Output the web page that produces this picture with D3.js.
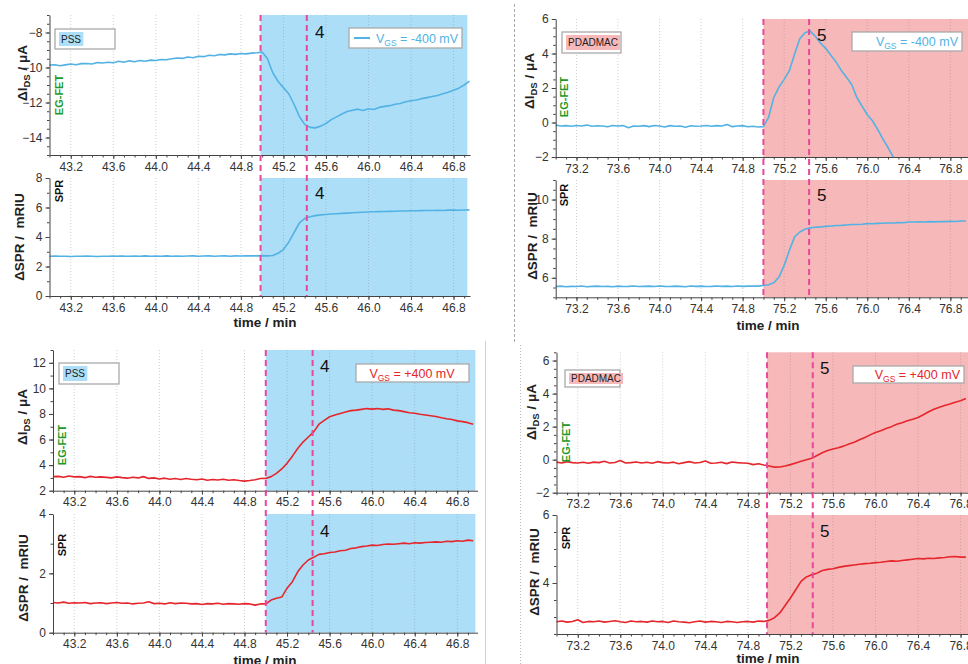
<!doctype html>
<html>
<head>
<meta charset="utf-8">
<title>EG-FET and SPR responses</title>
<script src="https://d3js.org/d3.v7.min.js"></script>
<style>
  body { margin:0; background:#fff; }
  svg { display:block; font-family:"Liberation Sans", Arial, sans-serif; }
</style>
</head>
<body>
<svg id="chart" width="968" height="664"></svg>
<script>
const xTicksPSS = [43.2, 43.6, 44.0, 44.4, 44.8, 45.2, 45.6, 46.0, 46.4, 46.8];
const xTicksPDA = [73.2, 73.6, 74.0, 74.4, 74.8, 75.2, 75.6, 76.0, 76.4, 76.8];

// PSS, VGS = -400 mV
const pssNegFet = [
  -9.86,-9.84,-9.9,-9.85,-9.8,-9.84,-9.78,-9.77,-9.8,-9.72,-9.74,-9.7,-9.73,-9.64,-9.7,-9.62,-9.67,-9.6,-9.64,-9.58,
  -9.6,-9.54,-9.56,-9.5,-9.46,-9.48,-9.4,-9.44,-9.36,-9.38,-9.3,-9.33,-9.26,-9.28,-9.22,-9.25,-9.2,-9.22,-9.18,-9.16,
  -9.12,-9.5,-10.3,-10.8,-11.15,-11.5,-12.1,-12.8,-13.25,-13.42,-13.45,-13.35,-13.2,-12.98,-12.82,-12.66,-12.52,-12.44,-12.38,-12.46,
  -12.36,-12.4,-12.28,-12.22,-12.18,-12.1,-12.06,-11.96,-11.9,-11.86,-11.78,-11.72,-11.66,-11.6,-11.5,-11.42,-11.3,-11.18,-11.0,-10.78
];
const pssNegSpr = [
  2.7,2.71,2.69,2.7,2.68,2.7,2.69,2.71,2.7,2.68,2.7,2.69,2.71,2.7,2.7,2.69,2.71,2.7,2.72,2.7,
  2.71,2.7,2.72,2.7,2.71,2.7,2.71,2.72,2.7,2.71,2.72,2.7,2.71,2.72,2.7,2.72,2.71,2.72,2.73,2.72,
  2.74,2.72,2.75,2.9,3.15,3.65,4.3,4.95,5.25,5.37,5.45,5.5,5.53,5.56,5.58,5.6,5.62,5.64,5.66,5.68,
  5.7,5.71,5.72,5.73,5.74,5.75,5.76,5.76,5.78,5.78,5.79,5.8,5.8,5.81,5.8,5.82,5.82,5.81,5.83,5.84
];
// PDADMAC, VGS = -400 mV
const pdaNegFet = [
  -0.15,-0.2,-0.18,-0.22,-0.17,-0.2,-0.15,-0.22,-0.19,-0.2,-0.25,-0.17,-0.2,-0.18,-0.3,-0.2,-0.22,-0.18,-0.24,-0.17,
  -0.2,-0.26,-0.18,-0.22,-0.2,-0.27,-0.19,-0.22,-0.2,-0.17,-0.22,-0.18,-0.2,-0.12,-0.24,-0.2,-0.18,-0.25,-0.22,-0.26,
  -0.24,0.3,1.45,2.05,2.5,3.0,3.95,4.85,5.2,5.3,5.0,4.6,4.3,3.9,3.5,3.02,2.62,2.2,1.45,0.95,
  0.45,0.1,-0.4,-0.95,-1.45,-2.0
];
const pdaNegSpr = [
  5.55,5.57,5.54,5.56,5.55,5.58,5.54,5.56,5.57,5.55,5.56,5.54,5.57,5.55,5.56,5.58,5.55,5.56,5.57,5.55,
  5.58,5.56,5.55,5.57,5.56,5.54,5.58,5.56,5.57,5.55,5.56,5.58,5.56,5.57,5.55,5.58,5.56,5.57,5.58,5.57,
  5.6,5.64,5.74,6.03,6.63,7.4,8.09,8.34,8.48,8.55,8.58,8.6,8.63,8.65,8.67,8.68,8.7,8.72,8.72,8.74,
  8.77,8.76,8.78,8.79,8.8,8.8,8.82,8.81,8.85,8.85,8.86,8.85,8.87,8.86,8.88,8.87,8.89,8.88,8.9,8.9
];
// PSS, VGS = +400 mV
const pssPosFet = [
  3.1,3.12,3.05,3.15,3.08,3.1,3.02,3.12,3.05,3.08,3.04,3.0,3.08,3.02,2.98,3.05,3.0,3.1,2.96,3.0,
  2.92,2.98,2.9,2.95,2.88,2.96,2.9,2.85,2.92,2.82,2.88,2.84,2.9,2.82,2.86,2.8,2.75,2.8,2.86,2.95,
  2.96,3.1,3.35,3.7,4.14,4.7,5.3,5.8,6.2,6.6,7.2,7.5,7.78,7.92,8.04,8.15,8.26,8.3,8.36,8.42,
  8.38,8.42,8.36,8.4,8.3,8.26,8.18,8.1,8.06,7.98,7.92,7.86,7.8,7.7,7.62,7.56,7.46,7.4,7.32,7.2
];
const pssPosSpr = [
  1.02,1.0,1.03,0.99,1.01,1.0,1.02,0.98,1.0,1.01,0.98,1.0,1.02,0.99,1.0,0.97,0.99,1.0,1.04,0.98,
  0.99,0.97,1.01,0.98,1.0,0.99,0.97,0.98,0.95,0.98,0.97,0.99,0.96,0.98,0.97,0.96,0.98,0.97,0.93,0.97,
  0.97,1.1,1.16,1.2,1.5,1.72,2.05,2.28,2.45,2.54,2.64,2.66,2.7,2.72,2.76,2.78,2.84,2.86,2.9,2.92,
  2.95,2.94,2.97,2.99,2.98,3.0,3.02,3.0,3.03,3.02,3.04,3.05,3.06,3.05,3.08,3.07,3.1,3.08,3.12,3.1
];
// PDADMAC, VGS = +400 mV
const pdaPosFet = [
  -0.15,-0.2,-0.12,-0.18,-0.2,-0.16,-0.22,-0.15,-0.18,-0.1,-0.2,-0.17,-0.05,-0.2,-0.18,-0.14,-0.2,-0.16,-0.22,-0.12,
  -0.18,-0.2,-0.15,-0.25,-0.18,-0.12,-0.2,-0.17,-0.08,-0.22,-0.2,-0.16,-0.24,-0.14,-0.18,-0.2,-0.22,-0.3,-0.25,-0.32,
  -0.38,-0.45,-0.44,-0.38,-0.3,-0.2,-0.1,0.0,0.08,0.25,0.42,0.55,0.64,0.72,0.82,0.95,1.05,1.2,1.34,1.5,
  1.65,1.75,1.88,2.0,2.14,2.24,2.36,2.45,2.55,2.72,2.9,3.05,3.18,3.28,3.37,3.48,3.57,3.7
];
const pdaPosSpr = [
  2.86,2.88,2.85,2.87,2.92,2.84,2.87,2.86,2.88,2.85,2.87,2.89,2.86,2.84,2.88,2.86,2.87,2.85,2.88,2.86,
  2.87,2.84,2.88,2.86,2.85,2.83,2.86,2.88,2.85,2.87,2.86,2.84,2.87,2.86,2.84,2.86,2.87,2.85,2.88,2.87,
  2.9,2.98,3.12,3.34,3.56,3.8,4.05,4.18,4.24,4.29,4.37,4.4,4.42,4.46,4.49,4.51,4.53,4.55,4.57,4.58,
  4.6,4.61,4.63,4.65,4.64,4.66,4.68,4.7,4.72,4.71,4.73,4.72,4.74,4.75,4.77,4.78,4.76,4.76
];

const BLUE = "#52b2e4", RED = "#e5262c";
const SHADE_PSS = "#acdff7", SHADE_PDA = "#f7b8b9";
const DASH = "#e8479b";

const svg = d3.select("#chart");

// separators between the four figures
svg.append("line").attr("x1",514.5).attr("x2",514.5).attr("y1",4).attr("y2",343)
   .attr("stroke","#aaa").attr("stroke-dasharray","3,2");
svg.append("line").attr("x1",485.5).attr("x2",485.5).attr("y1",341).attr("y2",664)
   .attr("stroke","#d0d0d0");
svg.append("line").attr("x1",520.5).attr("x2",520.5).attr("y1",345).attr("y2",664)
   .attr("stroke","#bbb").attr("stroke-dasharray","1,2");

const quads = [
  { left:49.5, right:470, xDomain:[43,46.955], t0:43, xTicks:xTicksPSS, shade:SHADE_PSS, shadeTo:46.93,
    dashes:[44.985,45.42], color:BLUE, num:"4", numX:315, polymer:"PSS",
    polyBox:[55,29,60,20], vgsBox:[349,28,113,20], vgsText:"-400 mV", vgsSample:true, vgsX:376, vgsAnchor:"start",
    time:[265,327],
    panels:[
      { top:15, bottom:155, domain:[-15,-7], ticks:[-14,-12,-10,-8], minor:0.5, values:pssNegFet,
        numY:38, tag:"EG-FET", tagPos:[63,95], title:"fet", titlePos:[27,73] },
      { top:178, bottom:296, domain:[0,8], ticks:[0,2,4,6,8], minor:1, values:pssNegSpr,
        numY:199, tag:"SPR", tagPos:[63,191], title:"spr", titlePos:[24,237] } ] },
  { left:555.7, right:968, xDomain:[73,76.97], t0:73, xTicks:xTicksPDA, shade:SHADE_PDA, shadeTo:77,
    dashes:[75.0,75.44], color:BLUE, num:"5", numX:817, polymer:"PDADMAC",
    polyBox:[562,32,59,21], vgsBox:[852,32,110,19], vgsText:"-400 mV", vgsSample:false, vgsX:958, vgsAnchor:"end",
    time:[768,330],
    panels:[
      { top:19, bottom:157, domain:[-2,6], ticks:[-2,0,2,4,6], minor:0.5, values:pdaNegFet,
        numY:41, tag:"EG-FET", tagPos:[568,97], title:"fet", titlePos:[534,81] },
      { top:180, bottom:297.3, domain:[5,11], ticks:[6,8,10], minor:0.5, values:pdaNegSpr,
        numY:201, tag:"SPR", tagPos:[568,195], title:"spr", titlePos:[537,236] } ] },
  { left:53, right:477.5, xDomain:[43,46.99], t0:43, xTicks:xTicksPSS, shade:SHADE_PSS, shadeTo:46.97,
    dashes:[45.0,45.44], color:RED, num:"4", numX:320, polymer:"PSS",
    polyBox:[59,363,60,21], vgsBox:[356,364,113,18], vgsText:"+400 mV", vgsSample:false, vgsX:412, vgsAnchor:"middle",
    time:[265,665],
    panels:[
      { top:350, bottom:490.7, domain:[2,13], ticks:[2,4,6,8,10,12], minor:1, values:pssPosFet,
        numY:372, tag:"EG-FET", tagPos:[66,445], title:"fet", titlePos:[27,417] },
      { top:514, bottom:632.7, domain:[0,4], ticks:[0,2,4], minor:1, values:pssPosSpr,
        numY:537, tag:"SPR", tagPos:[66,545], title:"spr", titlePos:[28,578] } ] },
  { left:556.5, right:968, xDomain:[73,76.87], t0:73, xTicks:xTicksPDA, shade:SHADE_PDA, shadeTo:77,
    dashes:[74.98,75.41], color:RED, num:"5", numX:820, polymer:"PDADMAC",
    polyBox:[565,370,55,17], vgsBox:[853,366,111,17], vgsText:"+400 mV", vgsSample:false, vgsX:960, vgsAnchor:"end",
    time:[768,663],
    panels:[
      { top:352.3, bottom:492.7, domain:[-2,6.5], ticks:[-2,0,2,4,6], minor:0.5, values:pdaPosFet,
        numY:374, tag:"EG-FET", tagPos:[570,442], title:"fet", titlePos:[536,412] },
      { top:515, bottom:634, domain:[2.5,6], ticks:[4,6], minor:0.5, values:pdaPosSpr,
        numY:537, tag:"SPR", tagPos:[570,538], title:"spr", titlePos:[539,572] } ] }
];

function yTitle(g, kind, pos) {
  const t = g.append("text").attr("transform", `translate(${pos[0]},${pos[1]}) rotate(-90)`)
    .attr("text-anchor","middle").attr("font-size",13.5).attr("font-weight","bold").attr("fill","#222");
  if (kind === "fet") {
    t.append("tspan").text("\u0394I");
    t.append("tspan").attr("font-size",9.5).attr("dy",3).text("DS");
    t.append("tspan").attr("dy",-3).text(" / \u03bcA");
  } else {
    t.text("\u0394SPR /\u00a0 mRIU");
  }
}

quads.forEach(q => {
  const g = svg.append("g");
  const x = d3.scaleLinear().domain(q.xDomain).range([q.left, q.right]);
  const xMinor = d3.range(Math.ceil(q.xDomain[0]*10), Math.floor(q.xDomain[1]*10)+1).map(d => d/10);

  q.panels.forEach(p => {
    const y = d3.scaleLinear().domain(p.domain).range([p.bottom, p.top]);
    const pg = g.append("g");

    // shaded injection region
    pg.append("rect").attr("x", x(q.dashes[0])).attr("y", p.top)
      .attr("width", Math.min(x(q.shadeTo), q.right) - x(q.dashes[0])).attr("height", p.bottom - p.top)
      .attr("fill", q.shade);

    // dotted vertical grid
    pg.selectAll("line.grid").data(q.xTicks).join("line").attr("class","grid")
      .attr("x1", d => x(d)).attr("x2", d => x(d)).attr("y1", p.top).attr("y2", p.bottom)
      .attr("stroke", "#777").attr("stroke-opacity", 0.35).attr("stroke-dasharray", "1,2");

    // signal
    const pts = p.values.map((v, i) => [q.t0 + i * 0.05, v]);
    pg.append("path").datum(pts)
      .attr("d", d3.line().x(d => x(d[0])).y(d => y(d[1])))
      .attr("fill","none").attr("stroke", q.color).attr("stroke-width", 1.6).attr("stroke-linejoin","round");

    // x axis (major + minor)
    const xa = pg.append("g").attr("transform", `translate(0,${p.bottom})`)
      .call(d3.axisBottom(x).tickValues(q.xTicks).tickFormat(d3.format(".1f")).tickSize(4).tickSizeOuter(0));
    pg.append("g").attr("transform", `translate(0,${p.bottom})`)
      .call(d3.axisBottom(x).tickValues(xMinor).tickFormat("").tickSize(2.5).tickSizeOuter(0))
      .select(".domain").remove();
    xa.selectAll("text").attr("font-size", 12).attr("fill","#333").attr("font-family","Liberation Sans, Arial, sans-serif");

    // y axis (major + minor)
    const yMinor = d3.range(p.domain[0], p.domain[1] + 1e-9, p.minor);
    const ya = pg.append("g").attr("transform", `translate(${q.left},0)`)
      .call(d3.axisLeft(y).tickValues(p.ticks).tickFormat(d3.format("d")).tickSize(4).tickSizeOuter(0));
    pg.append("g").attr("transform", `translate(${q.left},0)`)
      .call(d3.axisLeft(y).tickValues(yMinor).tickFormat("").tickSize(2.5).tickSizeOuter(0))
      .select(".domain").remove();
    ya.selectAll("text").attr("font-size", 12).attr("fill","#333").attr("font-family","Liberation Sans, Arial, sans-serif");
    pg.selectAll(".domain, .tick line").attr("stroke","#444");

    // step number
    pg.append("text").attr("x", q.numX).attr("y", p.numY).attr("font-size", 17).attr("fill","#111").text(q.num);

    // rotated tags
    pg.append("text").attr("transform", `translate(${p.tagPos[0]},${p.tagPos[1]}) rotate(-90)`)
      .attr("text-anchor","middle").attr("font-size", 11).attr("font-weight","bold")
      .attr("fill", p.tag === "EG-FET" ? "#1f9a2a" : "#111").text(p.tag);

    yTitle(pg, p.title, p.titlePos);
  });

  // dashed markers across both panels
  const top = q.panels[0].top, bot = q.panels[1].bottom;
  g.selectAll("line.mark").data(q.dashes).join("line").attr("class","mark")
    .attr("x1", d => x(d)).attr("x2", d => x(d)).attr("y1", top).attr("y2", bot)
    .attr("stroke", DASH).attr("stroke-width", 2).attr("stroke-dasharray", "6,4");

  // polymer label box
  const pb = q.polyBox;
  g.append("rect").attr("x", pb[0]).attr("y", pb[1]).attr("width", pb[2]).attr("height", pb[3])
    .attr("fill","#fff").attr("stroke","#aaa").attr("stroke-width",1.3);
  const pt = g.append("text").attr("x", pb[0] + 6).attr("y", pb[1] + pb[3]/2 + 3.5)
    .attr("font-size", 10).attr("fill","#222").text(q.polymer);
  const bb = pt.node().getBBox();
  g.insert("rect", () => pt.node()).attr("x", bb.x - 2).attr("y", pb[1] + 3).attr("width", bb.width + 4)
    .attr("height", pb[3] - 6).attr("fill", q.shade);

  // VGS legend box
  const vb = q.vgsBox;
  g.append("rect").attr("x", vb[0]).attr("y", vb[1]).attr("width", vb[2]).attr("height", vb[3])
    .attr("fill","#fff").attr("stroke","#aaa").attr("stroke-width",1.3);
  if (q.vgsSample) {
    g.append("line").attr("x1", vb[0] + 5).attr("x2", vb[0] + 21)
      .attr("y1", vb[1] + vb[3]/2).attr("y2", vb[1] + vb[3]/2)
      .attr("stroke", q.color).attr("stroke-width", 2);
  }
  const vt = g.append("text").attr("x", q.vgsX).attr("y", vb[1] + vb[3]/2 + 4.5)
    .attr("text-anchor", q.vgsAnchor).attr("font-size", 12.5).attr("fill", q.color);
  vt.append("tspan").text("V");
  vt.append("tspan").attr("font-size", 8.5).attr("dy", 3).text("GS");
  vt.append("tspan").attr("dy", -3).text(" = " + q.vgsText);

  // time axis title
  g.append("text").attr("x", q.time[0]).attr("y", q.time[1]).attr("text-anchor","middle")
    .attr("font-size", 13.5).attr("font-weight","bold").attr("fill","#222").text("time / min");
});
</script>
</body>
</html>
